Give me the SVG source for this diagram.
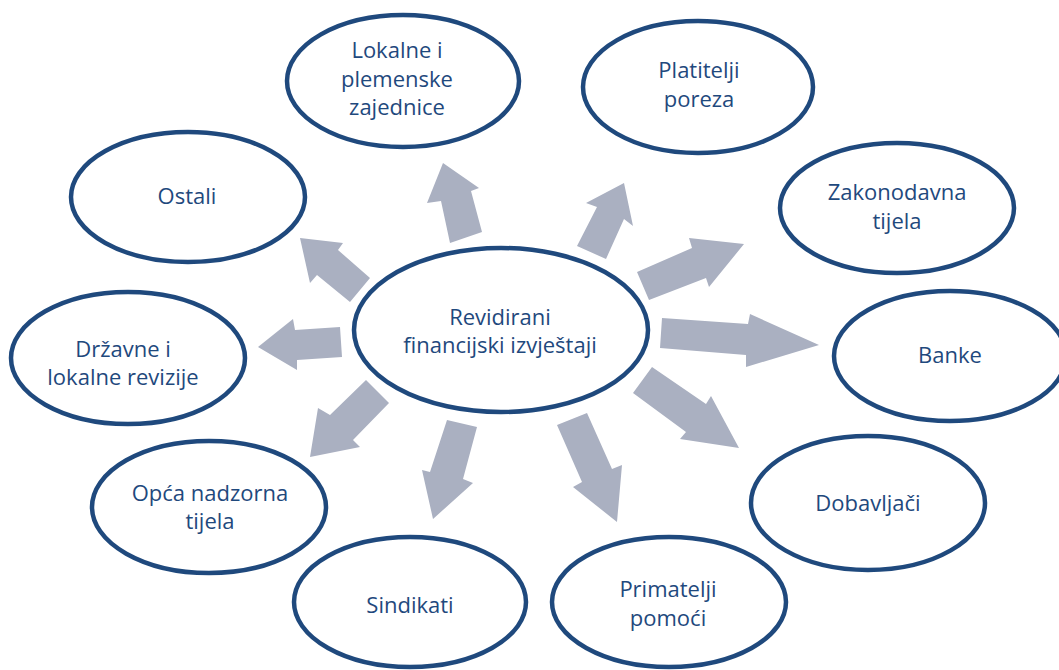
<svg xmlns="http://www.w3.org/2000/svg" width="1059" height="670" viewBox="0 0 1059 670">
<style>
.node ellipse{fill:#fff;stroke:#1F497D;stroke-width:4.5}
.node text{font-family:"Open Sans","Liberation Sans",sans-serif;font-size:22px;fill:#1F497D;text-anchor:middle}
.arrow{fill:#AAB0C1;stroke:none}
</style>
<rect width="1059" height="670" fill="#fff"/>
<g id="connectors">
<polygon class="arrow" points="450,243 441,201 427,203 443,163 479,188 471,191 482,232"/>
<polygon class="arrow" points="577,246 597,207 586,203 624,183 633,226 624,219 606,259"/>
<polygon class="arrow" points="637,272 692,248 689,238 744,244 709,287 706,278 649,300"/>
<polygon class="arrow" points="662,318 748,324 750,314 819,345 746,367 746,355 660,348"/>
<polygon class="arrow" points="652,367 706,404 711,396 739,448 680,439 686,432 633,393"/>
<polygon class="arrow" points="587,413 612,469 622,465 617,522 573,487 582,482 557,425"/>
<polygon class="arrow" points="477,427 463,479 473,483 433,519 422,470 430,472 447,420"/>
<polygon class="arrow" points="389,403 353,440 360,447 310,457 318,408 330,415 366,380"/>
<polygon class="arrow" points="340,327 295,330 293,319 258,347 297,370 297,360 342,357"/>
<polygon class="arrow" points="370,278 338,250 343,243 300,238 310,283 317,275 350,302"/>
</g>
<g id="center" class="node">
<ellipse cx="501" cy="330" rx="147" ry="82"/>
<text x="500" y="325">Revidirani</text>
<text x="500" y="353">financijski izvještaji</text>
</g>
<g id="lokalne" class="node">
<ellipse cx="403" cy="81" rx="116" ry="66"/>
<text x="397" y="58">Lokalne i</text>
<text x="397" y="87">plemenske</text>
<text x="397" y="115">zajednice</text>
</g>
<g id="platitelji" class="node">
<ellipse cx="698" cy="87" rx="115" ry="66"/>
<text x="699" y="78">Platitelji</text>
<text x="699" y="107">poreza</text>
</g>
<g id="zakonodavna" class="node">
<ellipse cx="897" cy="208" rx="117" ry="65"/>
<text x="897" y="200">Zakonodavna</text>
<text x="897" y="229">tijela</text>
</g>
<g id="banke" class="node">
<ellipse cx="950" cy="356" rx="116" ry="65"/>
<text x="950" y="363">Banke</text>
</g>
<g id="dobavljaci" class="node">
<ellipse cx="868" cy="503" rx="117" ry="67"/>
<text x="868" y="511">Dobavljači</text>
</g>
<g id="primatelji" class="node">
<ellipse cx="669" cy="602" rx="117" ry="65"/>
<text x="668" y="597">Primatelji</text>
<text x="668" y="626">pomoći</text>
</g>
<g id="sindikati" class="node">
<ellipse cx="410" cy="602" rx="116" ry="65"/>
<text x="410" y="613">Sindikati</text>
</g>
<g id="opca" class="node">
<ellipse cx="209" cy="507" rx="117" ry="66"/>
<text x="210" y="501">Opća nadzorna</text>
<text x="210" y="529">tijela</text>
</g>
<g id="drzavne" class="node">
<ellipse cx="128" cy="358" rx="117" ry="66"/>
<text x="123" y="357">Državne i</text>
<text x="123" y="385">lokalne revizije</text>
</g>
<g id="ostali" class="node">
<ellipse cx="188" cy="197" rx="117" ry="65"/>
<text x="187" y="204">Ostali</text>
</g>
</svg>
